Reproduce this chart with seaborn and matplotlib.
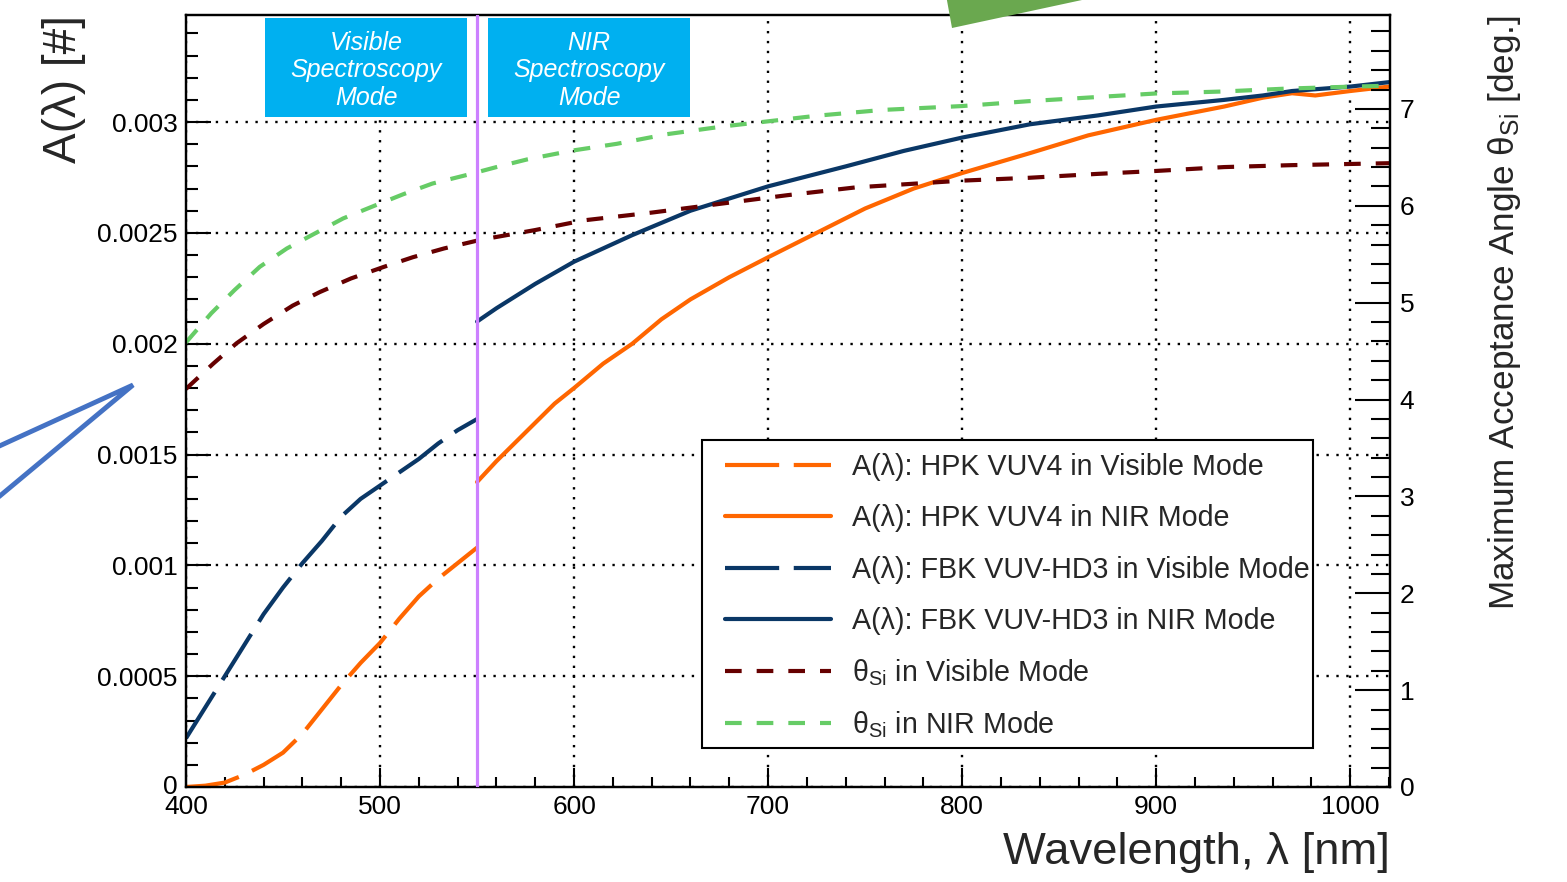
import numpy as np
import pandas as pd
import matplotlib
matplotlib.use('Agg')
import matplotlib.pyplot as plt
import seaborn as sns
from matplotlib.ticker import MultipleLocator, FuncFormatter
from matplotlib.patches import Rectangle, Polygon
from matplotlib.lines import Line2D
from matplotlib.transforms import ScaledTranslation

# ---------------- data ----------------
# A(lambda) values are given in units of 1e-3
HPK_VIS_WL = [400, 410, 420, 430, 440, 450, 460, 470, 480, 490, 500, 510, 520, 530, 540, 550]
HPK_VIS_A_E3 = [0.0, 0.006, 0.02, 0.055, 0.10, 0.155, 0.24, 0.35, 0.46, 0.56, 0.65, 0.76, 0.86, 0.94, 1.01, 1.08]

HPK_NIR_WL = [550, 560, 575, 590, 600, 615, 630, 645, 660, 680, 700, 725, 750, 775, 800,
              835, 865, 900, 935, 955, 970, 982, 1000, 1020]
HPK_NIR_A_E3 = [1.376, 1.47, 1.60, 1.73, 1.80, 1.91, 2.00, 2.11, 2.20, 2.30, 2.39, 2.50, 2.61, 2.70, 2.77,
                2.86, 2.94, 3.01, 3.07, 3.11, 3.13, 3.12, 3.14, 3.16]

FBK_VIS_WL = [400, 410, 420, 430, 440, 450, 460, 470, 480, 490, 500, 510, 520, 530, 540, 550]
FBK_VIS_A_E3 = [0.22, 0.36, 0.50, 0.64, 0.78, 0.90, 1.01, 1.11, 1.22, 1.30, 1.36, 1.42, 1.48, 1.55, 1.61, 1.66]

FBK_NIR_WL = [550, 560, 580, 600, 630, 660, 700, 740, 770, 800, 835, 870, 900, 935, 955, 970, 1000, 1020]
FBK_NIR_A_E3 = [2.10, 2.16, 2.27, 2.37, 2.49, 2.60, 2.71, 2.80, 2.87, 2.93, 2.99, 3.03, 3.07, 3.10, 3.12,
                3.14, 3.16, 3.18]

THETA_VIS_WL = [400, 414, 426, 440, 455, 469, 485, 502, 517, 533, 552, 580, 605, 640, 675, 710, 745,
                800, 835, 870, 900, 935, 970, 1020]
THETA_VIS_DEG = [4.11, 4.37, 4.58, 4.78, 4.97, 5.11, 5.25, 5.37, 5.47, 5.56, 5.65, 5.75, 5.85, 5.93, 6.02,
                 6.11, 6.19, 6.26, 6.29, 6.33, 6.36, 6.40, 6.42, 6.44]

THETA_NIR_WL = [400, 413, 425, 438, 452, 466, 481, 497, 512, 527, 545, 560, 576, 599, 622, 648, 677, 699,
                725, 759, 800, 834, 867, 900, 934, 967, 1000, 1020]
THETA_NIR_DEG = [4.59, 4.89, 5.13, 5.37, 5.56, 5.71, 5.87, 6.00, 6.12, 6.23, 6.32, 6.40, 6.48, 6.57, 6.64,
                 6.74, 6.82, 6.87, 6.93, 6.99, 7.03, 7.08, 7.12, 7.16, 7.18, 7.21, 7.23, 7.24]

MODE_SPLIT_NM = 550

LABELS = ["A(λ): HPK VUV4 in Visible Mode",
          "A(λ): HPK VUV4 in NIR Mode",
          "A(λ): FBK VUV-HD3 in Visible Mode",
          "A(λ): FBK VUV-HD3 in NIR Mode",
          "θ$_{\\mathregular{Si}}$ in Visible Mode",
          "θ$_{\\mathregular{Si}}$ in NIR Mode"]
BOX_TEXTS = ["Visible\nSpectroscopy\nMode", "NIR\nSpectroscopy\nMode"]

# ---------------- style ----------------
sns.set_theme(style='ticks')
plt.rcParams['font.family'] = ['Liberation Sans', 'DejaVu Sans']
plt.rcParams['mathtext.fontset'] = 'custom'
plt.rcParams['mathtext.rm'] = 'Liberation Sans'
plt.rcParams['mathtext.it'] = 'Liberation Sans:italic'
plt.rcParams['mathtext.bf'] = 'Liberation Sans:bold'

ORANGE = '#FF6600'
NAVY = '#0A3766'
DARKRED = '#660000'
GREEN = '#66CC66'
PURPLE = '#CC80FF'
CYAN = '#00B0F0'

LS_LONG = (0, (13, 3.5))
LS_SHORT = (0, (4, 3.6))
LW = 3

W, H = 1567, 882
fig = plt.figure(figsize=(W / 100, H / 100), dpi=100)
ax = fig.add_axes([186 / W, 1 - 787 / H, (1390 - 186) / W, (787 - 15) / H])
ax2 = ax.twinx()

def frame(wl, vals, scale=1.0):
    return pd.DataFrame({'wl': wl, 'v': np.asarray(vals, dtype=float) * scale})

sns.lineplot(data=frame(HPK_VIS_WL, HPK_VIS_A_E3, 1e-3), x='wl', y='v', ax=ax, color=ORANGE,
             lw=LW, linestyle=LS_LONG, legend=False, sort=False, estimator=None)
sns.lineplot(data=frame(HPK_NIR_WL, HPK_NIR_A_E3, 1e-3), x='wl', y='v', ax=ax, color=ORANGE,
             lw=LW, linestyle='-', legend=False, sort=False, estimator=None)
sns.lineplot(data=frame(FBK_VIS_WL, FBK_VIS_A_E3, 1e-3), x='wl', y='v', ax=ax, color=NAVY,
             lw=LW, linestyle=LS_LONG, legend=False, sort=False, estimator=None)
sns.lineplot(data=frame(FBK_NIR_WL, FBK_NIR_A_E3, 1e-3), x='wl', y='v', ax=ax, color=NAVY,
             lw=LW, linestyle='-', legend=False, sort=False, estimator=None)

sns.lineplot(data=frame(THETA_VIS_WL, THETA_VIS_DEG), x='wl', y='v', ax=ax2, color=DARKRED,
             lw=LW, linestyle=LS_SHORT, legend=False, sort=False, estimator=None)
sns.lineplot(data=frame(THETA_NIR_WL, THETA_NIR_DEG), x='wl', y='v', ax=ax2, color=GREEN,
             lw=LW, linestyle=LS_SHORT, legend=False, sort=False, estimator=None)

ax2.axvline(MODE_SPLIT_NM, color=PURPLE, lw=2.3, zorder=3)

# ---------------- axes ----------------
ax.set_xlim(400, 1020.5)
ax.set_ylim(0, 0.003483)
ax2.set_ylim(0, 7.97)

ax.xaxis.set_major_locator(MultipleLocator(100))
ax.xaxis.set_minor_locator(MultipleLocator(20))
ax.yaxis.set_major_locator(MultipleLocator(0.0005))
ax.yaxis.set_minor_locator(MultipleLocator(0.0001))
ax.yaxis.set_major_formatter(FuncFormatter(lambda v, p: '0' if abs(v) < 1e-12 else f'{v:g}'))
ax2.yaxis.set_major_locator(MultipleLocator(1))
ax2.yaxis.set_minor_locator(MultipleLocator(0.2))

ax.grid(True, which='major', color='black', linestyle=(0, (1, 3.2)), lw=1.7)

ax.tick_params(axis='both', which='both', direction='in', colors='black', width=1.5, labelsize=19)
ax.tick_params(axis='x', which='major', length=14, pad=6, top=False)
ax.tick_params(axis='x', which='minor', length=7, top=False)
ax.tick_params(axis='y', which='major', length=18, pad=6, left=True, right=False)
ax.tick_params(axis='y', which='minor', length=8.5, left=True, right=False)
ax2.tick_params(axis='y', which='both', direction='in', colors='black', width=1.5, labelsize=19,
                left=False, right=True)
ax2.tick_params(axis='y', which='major', length=25, pad=7)
ax2.tick_params(axis='y', which='minor', length=14)

for a in (ax, ax2):
    for s in a.spines.values():
        s.set_linewidth(1.6)
        s.set_color('black')

ax.set_xlabel('Wavelength, λ [nm]', fontsize=32.7, loc='right')
ax.xaxis.set_label_coords(1.0, -0.058)
ax.set_ylabel('A(λ) [#]', fontsize=33, loc='top')
ax.yaxis.set_label_coords(-0.083, 1.0)
ax2.set_ylabel('Maximum Acceptance Angle θ$_{\\mathregular{Si}}$ [deg.]', fontsize=25.3, loc='top')
ax2.yaxis.set_label_coords(1.08, 1.0)

# nudge the "0" label of the left axis up a little so it does not touch "400"
fig.canvas.draw()
for t in ax.yaxis.get_major_ticks():
    if abs(t.get_loc()) < 1e-12:
        lab = t.label1
        lab.set_transform(lab.get_transform() + ScaledTranslation(0, 3 / 100, fig.dpi_scale_trans))

# ---------------- mode boxes ----------------
def px_to_ax(xp, yp):
    return ((xp - 186) / (1390 - 186), (787 - yp) / (787 - 15))

for (x0, x1), txt in zip([(265, 467), (488, 690)], BOX_TEXTS):
    bx0, by0 = px_to_ax(x0, 117)
    bx1, by1 = px_to_ax(x1, 18)
    tx, ty = px_to_ax((x0 + x1) / 2, 70.5)
    ax2.add_patch(Rectangle((bx0, by0), bx1 - bx0, by1 - by0, transform=ax2.transAxes,
                            facecolor=CYAN, edgecolor='none', zorder=6))
    ax2.text(tx, ty, txt, transform=ax2.transAxes, ha='center',
             va='center', color='white', fontsize=18, style='italic', linespacing=1.2, zorder=7)

# ---------------- legend ----------------
lx0, ly0 = px_to_ax(702, 748)
lx1, ly1 = px_to_ax(1313, 440)
ax2.add_patch(Rectangle((lx0, ly0), lx1 - lx0, ly1 - ly0, transform=ax2.transAxes,
                        facecolor='white', edgecolor='black', lw=1.5, zorder=8))
handles = [Line2D([], [], color=ORANGE, lw=LW, linestyle=LS_LONG),
           Line2D([], [], color=ORANGE, lw=LW, linestyle='-'),
           Line2D([], [], color=NAVY, lw=LW, linestyle=LS_LONG),
           Line2D([], [], color=NAVY, lw=LW, linestyle='-'),
           Line2D([], [], color=DARKRED, lw=LW, linestyle=LS_SHORT),
           Line2D([], [], color=GREEN, lw=LW, linestyle=LS_SHORT)]
leg_kw = dict(loc='upper left', frameon=False, fontsize=20.6, handlelength=3.7,
              handletextpad=0.75, borderpad=0, borderaxespad=0)
hx, hy = px_to_ax(725, 453)
leg1 = ax2.legend(handles[:4], LABELS[:4], bbox_to_anchor=(hx, hy), labelspacing=0.82, **leg_kw)
leg1.set_zorder(9)
ax2.add_artist(leg1)
hx2, hy2 = px_to_ax(725, 657)
leg2 = ax2.legend(handles[4:], LABELS[4:], bbox_to_anchor=(hx2, hy2), labelspacing=0.74, **leg_kw)
leg2.set_zorder(9)

# ---------------- slide decorations ----------------
fig.add_artist(Line2D([-5 / W, 133 / W, -5 / W], [1 - 448 / H, 1 - 385 / H, 1 - 500 / H],
                      transform=fig.transFigure, color='#4472C4', lw=3.5, solid_joinstyle='miter'))
fig.add_artist(Polygon([(946 / W, 1 + 5 / H), (952 / W, 1 - 28 / H), (1082 / W, 1 - 0 / H),
                        (1100 / W, 1 + 5 / H)], closed=True, transform=fig.transFigure,
                       facecolor='#6AA84F', edgecolor='none'))

fig.savefig('out.png', dpi=100)
